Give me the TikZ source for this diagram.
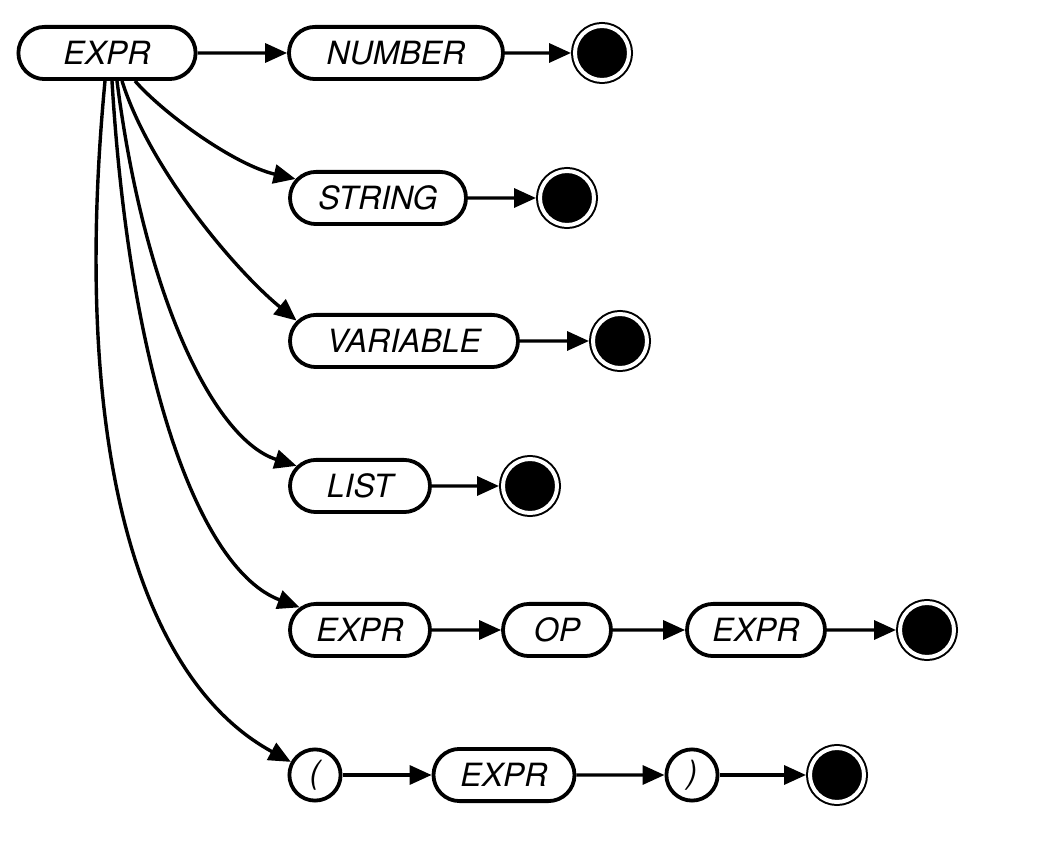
\documentclass[tikz,border=0pt]{standalone}
\usepackage{fontspec}
\setmainfont{TeX Gyre Heros}
\usetikzlibrary{shapes.misc,arrows.meta}
\tikzstyle{line} = [draw, line width=1.7pt, -{Triangle[length=11pt,width=9.5pt]}]
\tikzstyle{term} = [rounded rectangle, draw, line width=1.9pt, minimum height=26.1pt, inner sep=0pt, font=\fontsize{16}{19}\selectfont\itshape]
\tikzstyle{paren} = [circle, draw, line width=1.9pt, minimum size=25.6pt, inner sep=0pt, font=\fontsize{16}{19}\selectfont\itshape]
\tikzstyle{final} = [circle, fill=black, draw=black, double=white, double distance=2pt, line width=1pt, minimum size=27pt, inner sep=0pt, outer sep=2pt]

\begin{document}
\begin{tikzpicture}[x=0.5pt,y=-0.5pt]
    \useasboundingbox (0,0) rectangle (1038,854);
    % Draw the start node and the alternatives
    \node[term, minimum width=88.6pt] (expr) at (107,53) {EXPR};
    \node[term, minimum width=107pt] (number) at (396,53) {NUMBER};
    \node[final] (numberend) at (602,53) {};
    \node[term, minimum width=88pt] (string) at (378,198) {STRING};
    \node[final] (stringend) at (567,198) {};
    \node[term, minimum width=114pt] (variable) at (404,341) {VARIABLE};
    \node[final] (variableend) at (620,341) {};
    \node[term, minimum width=70pt] (list) at (360,486) {LIST};
    \node[final] (listend) at (530,486) {};
    \node[term, minimum width=70pt] (lhs) at (360,630) {EXPR};
    \node[term, minimum width=54pt] (op) at (557,630) {OP};
    \node[term, minimum width=69pt] (rhs) at (756,630) {EXPR};
    \node[final] (binend) at (927,630) {};
    \node[paren] (lparen) at (315,775) {(};
    \node[term, minimum width=70.5pt] (inner) at (504,775) {EXPR};
    \node[paren] (rparen) at (692,775) {)};
    \node[final] (parenend) at (837,775) {};
    % Draw the straight arrows
    \draw[line] (expr) -- (number);
    \draw[line] (number) -- (numberend);
    \draw[line] (string) -- (stringend);
    \draw[line] (variable) -- (variableend);
    \draw[line] (list) -- (listend);
    \draw[line] (lhs) -- (op);
    \draw[line] (op) -- (rhs);
    \draw[line] (rhs) -- (binend);
    \draw[line] (lparen) -- (inner);
    \draw[line] (inner) -- (rparen);
    \draw[line] (rparen) -- (parenend);
    % Draw the curved arrows out of EXPR
    \draw[line] ([xshift=14pt]expr.south) .. controls (165,115) and (235,165) .. (string);
    \draw[line] ([xshift=7.5pt]expr.south) .. controls (150,170) and (236,271) .. ([xshift=4.2pt,yshift=10.2pt]variable.west);
    \draw[line] ([xshift=5pt]expr.south) .. controls (145,300) and (215,440) .. (list);
    \draw[line] ([xshift=2.5pt]expr.south) .. controls (130,380) and (200,570) .. (lhs);
    \draw[line] ([xshift=-1pt]expr.south) .. controls (70,450) and (140,680) .. (lparen);
\end{tikzpicture}
\end{document}
